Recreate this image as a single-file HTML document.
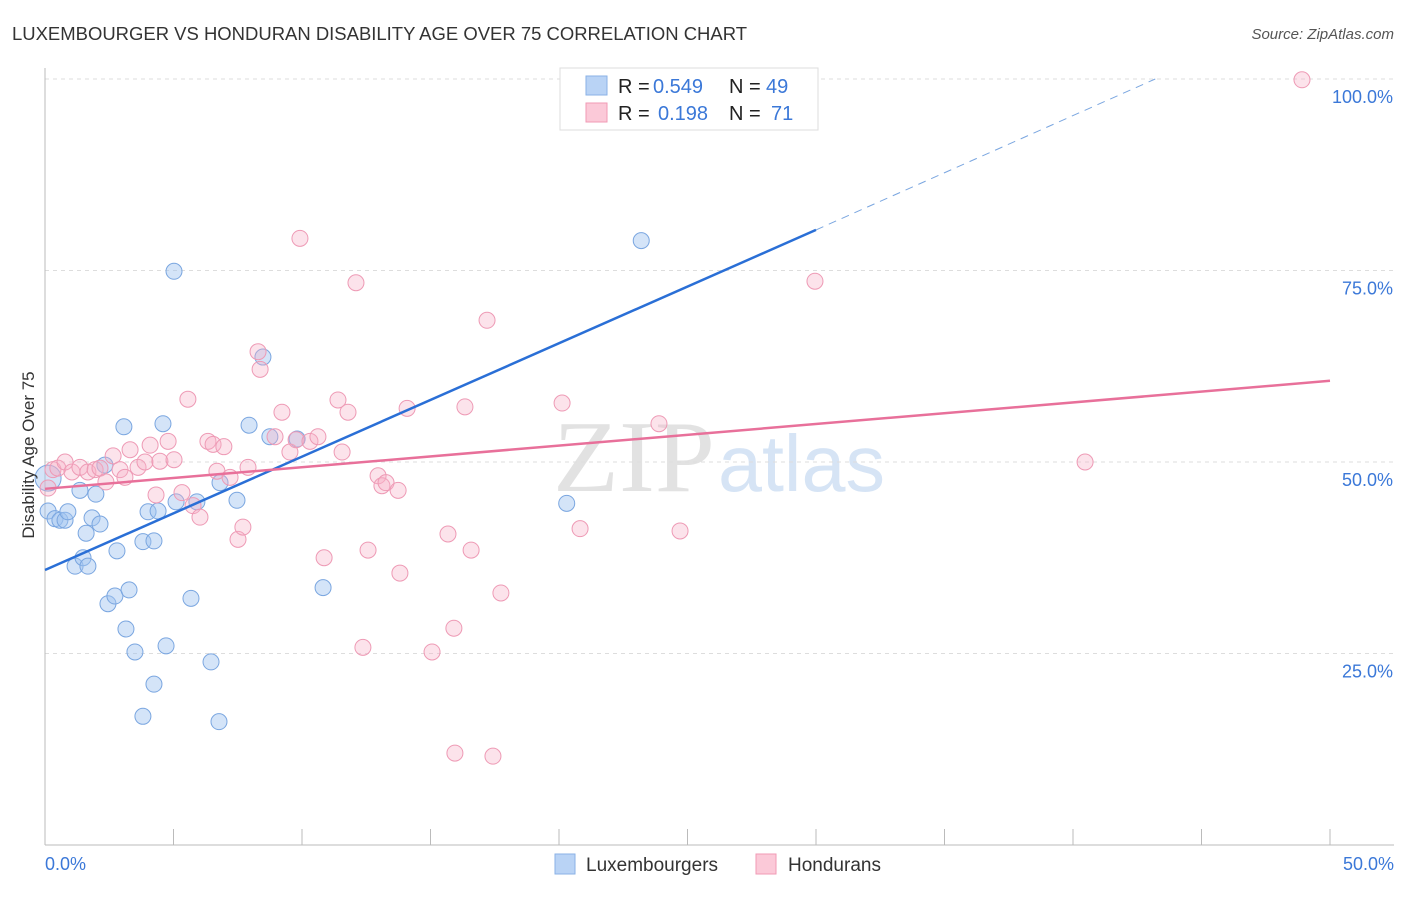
<!DOCTYPE html>
<html><head><meta charset="utf-8"><style>
body{margin:0;background:#fff;font-family:"Liberation Sans",sans-serif}
svg text{font-family:"Liberation Sans",sans-serif}
</style></head><body>
<svg id="chart" width="1406" height="892">
<text x="12" y="40" font-size="18" fill="#333" textLength="735" lengthAdjust="spacingAndGlyphs">LUXEMBOURGER VS HONDURAN DISABILITY AGE OVER 75 CORRELATION CHART</text>
<text x="1394" y="39" font-size="15" fill="#555" font-style="italic" text-anchor="end">Source: ZipAtlas.com</text>
<text x="553" y="491" font-size="102" fill="#e2e2e2" style="font-family:'Liberation Serif',serif" textLength="162" lengthAdjust="spacingAndGlyphs">ZIP</text>
<text x="718" y="491" font-size="80" fill="#d6e4f5" textLength="167" lengthAdjust="spacingAndGlyphs">atlas</text>
<g id="grid"></g><g id="axes"></g><g id="marks"></g>
<text x="34" y="455" font-size="17" fill="#333" text-anchor="middle" transform="rotate(-90 34 455)">Disability Age Over 75</text>
<text x="45" y="870" font-size="18" fill="#3b78d8">0.0%</text>
<text x="1394" y="870" font-size="18" fill="#3b78d8" text-anchor="end">50.0%</text>
<g>
<rect x="560" y="68" width="258" height="62" fill="#fff" stroke="#ddd"/>
<rect x="586" y="76" width="21" height="19" fill="#b9d3f5" stroke="#8ab2e6"/>
<rect x="586" y="103" width="21" height="19" fill="#fbc9d8" stroke="#f09ab5"/>
<text x="618" y="93" font-size="20" fill="#222">R =</text>
<text x="653" y="93" font-size="20" fill="#3b78d8">0.549</text>
<text x="729" y="93" font-size="20" fill="#222">N =</text>
<text x="766" y="93" font-size="20" fill="#3b78d8">49</text>
<text x="618" y="120" font-size="20" fill="#222">R =</text>
<text x="658" y="120" font-size="20" fill="#3b78d8">0.198</text>
<text x="729" y="120" font-size="20" fill="#222">N =</text>
<text x="771" y="120" font-size="20" fill="#3b78d8">71</text>
</g>
<g>
<rect x="555" y="854" width="20" height="20" fill="#b9d3f5" stroke="#8ab2e6"/>
<text x="586" y="871" font-size="19" fill="#333">Luxembourgers</text>
<rect x="756" y="854" width="20" height="20" fill="#fbc9d8" stroke="#f09ab5"/>
<text x="788" y="871" font-size="19" fill="#333">Hondurans</text>
</g>
</svg>
<script>
const yTicks=[25,50,75,100];
const yTickLabels=["25.0%","50.0%","75.0%","100.0%"];
const xTicks=[0,5,10,15,20,25,30,35,40,45,50];
const luxX=[0.12,0.39,0.58,0.78,0.89,1.17,1.36,1.48,1.6,1.67,1.83,1.98,2.14,2.33,2.45,2.72,2.8,3.07,3.15,3.27,3.5,3.81,3.81,4.01,4.24,4.24,4.59,4.4,4.71,5.02,5.1,5.68,5.91,6.46,6.77,6.81,7.47,7.94,8.48,8.75,9.81,10.82,20.3,23.2,26.9,0.12];
const luxY=[43.6,42.6,42.4,42.4,43.5,36.4,46.3,37.5,40.7,36.4,42.7,45.8,41.9,49.6,31.5,32.5,38.4,54.6,28.2,33.3,25.2,16.8,39.6,43.5,39.7,21.0,55.0,43.6,26.0,74.9,44.8,32.2,44.8,23.9,16.1,47.3,45.0,54.8,63.7,53.3,53.0,33.6,44.6,78.9,100,47.9];
const honX=[0.12,0.31,0.5,0.78,1.05,1.36,1.67,1.95,2.14,2.37,2.65,2.92,3.11,3.31,3.62,3.89,4.09,4.32,4.47,4.79,5.02,5.33,5.56,5.76,6.03,6.34,6.54,6.69,6.96,7.2,7.51,7.7,7.9,8.29,8.37,8.95,9.22,9.53,9.77,9.92,10.31,10.62,10.86,11.4,11.56,11.79,12.1,12.57,12.37,12.96,13.11,13.27,13.74,13.81,14.09,15.06,15.68,15.91,15.95,16.34,16.58,17.2,17.43,17.74,20.12,20.82,23.89,24.71,29.96,40.47,48.91];
const honY=[46.6,49.0,49.2,50.0,48.7,49.3,48.7,49.0,49.2,47.4,50.8,49.0,48.0,51.6,49.3,50.0,52.2,45.7,50.1,52.7,50.3,46.0,58.2,44.3,42.8,52.7,52.3,48.8,52.0,48.0,39.9,41.5,49.3,64.4,62.1,53.3,56.5,51.3,52.9,79.2,52.7,53.3,37.5,58.1,51.3,56.5,73.4,38.5,25.8,48.2,46.9,47.3,46.3,35.5,57.0,25.2,40.6,28.3,12.0,57.2,38.5,68.5,11.6,32.9,57.7,41.3,55.0,41.0,73.6,50.0,99.9];
const luxTrend=[0,35.9,30,80.3,43.2,100];
const honTrend=[0,46.5,50,60.6];
const NS='http://www.w3.org/2000/svg';
const X=v=>45+v*25.7, Y=v=>845-v*7.66;
function mk(p,t,a){const e=document.createElementNS(NS,t);for(const k in a)e.setAttribute(k,a[k]);p.appendChild(e);return e;}
const grid=document.getElementById('grid'),axes=document.getElementById('axes'),marks=document.getElementById('marks');
yTicks.forEach((t,i)=>{
 const l=mk(grid,'line',{x1:45,x2:1394,y1:Y(t),y2:Y(t),stroke:'#ddd','stroke-dasharray':'4 4'});
 
 
 const tx=mk(grid,'text',{x:1393,y:Y(t)+24,'font-size':18,fill:'#3b78d8','text-anchor':'end'});
 tx.textContent=yTickLabels[i];
 
 
});
const ya=mk(axes,'line',{x1:45,x2:45,y1:68,y2:845,stroke:'#bbb'});


const xa=mk(axes,'line',{x1:45,x2:1394,y1:845,y2:845,stroke:'#bbb'});


xTicks.forEach(t=>{
 const l=mk(axes,'line',{x1:X(t),x2:X(t),y1:829,y2:845,stroke:'#bbb'});
 
 
});
luxX.forEach((v,i)=>{
 const c=mk(marks,'circle',{cx:X(v),cy:Y(luxY[i]),r:i==luxX.length-1?13:8,fill:'rgba(160,196,240,0.45)',stroke:'#7aa6e0','stroke-width':1});
 
 
});
honX.forEach((v,i)=>{
 const c=mk(marks,'circle',{cx:X(v),cy:Y(honY[i]),r:8,fill:'rgba(246,175,198,0.35)',stroke:'#ee9ab5','stroke-width':1});
 
 
});
const bl=mk(marks,'line',{x1:X(luxTrend[0]),y1:Y(luxTrend[1]),x2:X(luxTrend[2]),y2:Y(luxTrend[3]),stroke:'#2a6fd6','stroke-width':2.5});


const bd=mk(marks,'line',{x1:X(luxTrend[2]),y1:Y(luxTrend[3]),x2:X(luxTrend[4]),y2:Y(luxTrend[5]),stroke:'#7aa6e0','stroke-width':1,'stroke-dasharray':'8 6'});


const pl=mk(marks,'line',{x1:X(honTrend[0]),y1:Y(honTrend[1]),x2:X(honTrend[2]),y2:Y(honTrend[3]),stroke:'#e8709a','stroke-width':2.5});


</script>
</body></html>
